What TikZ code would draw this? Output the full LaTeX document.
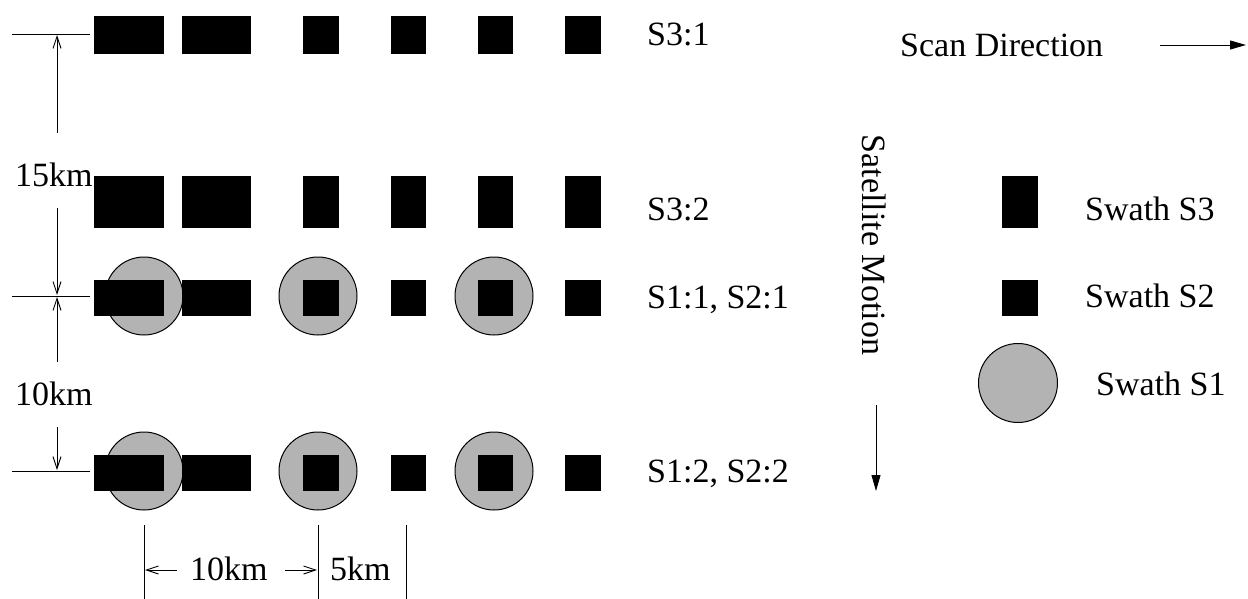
\documentclass[tikz,border=0pt]{standalone}
\usepackage{fontspec}
\setmainfont{Liberation Serif}
\usetikzlibrary{arrows.meta}
\definecolor{swgray}{RGB}{179,179,179}
\tikzset{
  blk/.style={rectangle, fill=black, inner sep=0pt, outer sep=0pt},
  sw/.style={circle, fill=swgray, draw=black, line width=1pt, minimum size=78pt, inner sep=0pt},
  lbl/.style={font=\fontsize{34}{40}\selectfont, inner sep=0pt, anchor=base west},
  thinl/.style={line width=0.9pt},
  dimarrow/.style={line width=0.9pt, -{Straight Barb[length=12pt,width=8pt]}},
  motarrow/.style={line width=0.9pt, -{Triangle[length=16pt,width=9pt]}}
}
\begin{document}
\begin{tikzpicture}[x=1pt,y=-1pt]
\useasboundingbox (0,0) rectangle (1248,599);
% circles (swath S1)
\foreach \cx [count=\i] in {144,318,494} {
  \node[sw] (c3\i) at (\cx,296) {};
  \node[sw] (c4\i) at (\cx,471) {};
}
% rectangles
\foreach \ry/\rh [count=\r] in {35/38, 202/52, 298/36, 473/36} {
  \foreach \cx/\cw [count=\c] in {129/70, 216.5/69, 321/36, 408.5/35, 495.5/35, 583/36} {
    \node[blk, minimum width=\cw pt, minimum height=\rh pt] (r\r\c) at (\cx,\ry) {};
  }
}
% row labels
\node[lbl] (l1) at (647,46) {S3:1};
\node[lbl] (l2) at (647,220) {S3:2};
\node[lbl] (l3) at (647,308) {S1:1, S2:1};
\node[lbl] (l4) at (647,482) {S1:2, S2:2};
% scan direction
\node[lbl] (scan) at (900,57) {Scan Direction};
\coordinate (sa) at (1160,45);
\coordinate (sb) at (1246,45);
\draw[motarrow] (sa) -- (sb);
% satellite motion
\node[font=\fontsize{34}{40}\selectfont, inner sep=0pt, rotate=-90] (sat) at (874,245) {Satellite Motion};
\coordinate (ma) at (876,405);
\coordinate (mb) at (876,491);
\draw[motarrow] (ma) -- (mb);
% legend
\node[blk, minimum width=36pt, minimum height=52pt] (leg3) at (1020,202) {};
\node[blk, minimum width=36pt, minimum height=36pt] (leg2) at (1020,298) {};
\node[sw, minimum size=79pt] (leg1) at (1018,383) {};
\node[lbl] (t3) at (1085,220) {Swath S3};
\node[lbl] (t2) at (1085,307) {Swath S2};
\node[lbl] (t1) at (1096,395) {Swath S1};
% left dimensions
\coordinate (h1a) at (12,34);  \coordinate (h1b) at (90,34);
\coordinate (h3a) at (12,296); \coordinate (h3b) at (90,296);
\coordinate (h4a) at (12,471); \coordinate (h4b) at (90,471);
\draw[thinl] (h1a) -- (h1b);
\draw[thinl] (h3a) -- (h3b);
\draw[thinl] (h4a) -- (h4b);
\coordinate (d1s) at (57,133); \coordinate (d1e) at (57,35);
\coordinate (d2s) at (57,208); \coordinate (d2e) at (57,295);
\coordinate (d3s) at (57,362); \coordinate (d3e) at (57,297);
\coordinate (d4s) at (57,427); \coordinate (d4e) at (57,470);
\draw[dimarrow] (d1s) -- (d1e);
\draw[dimarrow] (d2s) -- (d2e);
\draw[dimarrow] (d3s) -- (d3e);
\draw[dimarrow] (d4s) -- (d4e);
\node[lbl] (k15) at (15,186) {15km};
\node[lbl] (k10) at (15,405) {10km};
% bottom dimensions
\coordinate (v1a) at (144,525); \coordinate (v1b) at (144,599);
\coordinate (v2a) at (318,525); \coordinate (v2b) at (318,599);
\coordinate (v3a) at (406,525); \coordinate (v3b) at (406,599);
\draw[thinl] (v1a) -- (v1b);
\draw[thinl] (v2a) -- (v2b);
\draw[thinl] (v3a) -- (v3b);
\coordinate (b1s) at (177,570); \coordinate (b1e) at (145,570);
\coordinate (b2s) at (285,570); \coordinate (b2e) at (317,570);
\draw[dimarrow] (b1s) -- (b1e);
\draw[dimarrow] (b2s) -- (b2e);
\node[lbl] (k10b) at (190,580) {10km};
\node[lbl] (k5) at (330,580) {5km};
\end{tikzpicture}
\end{document}
